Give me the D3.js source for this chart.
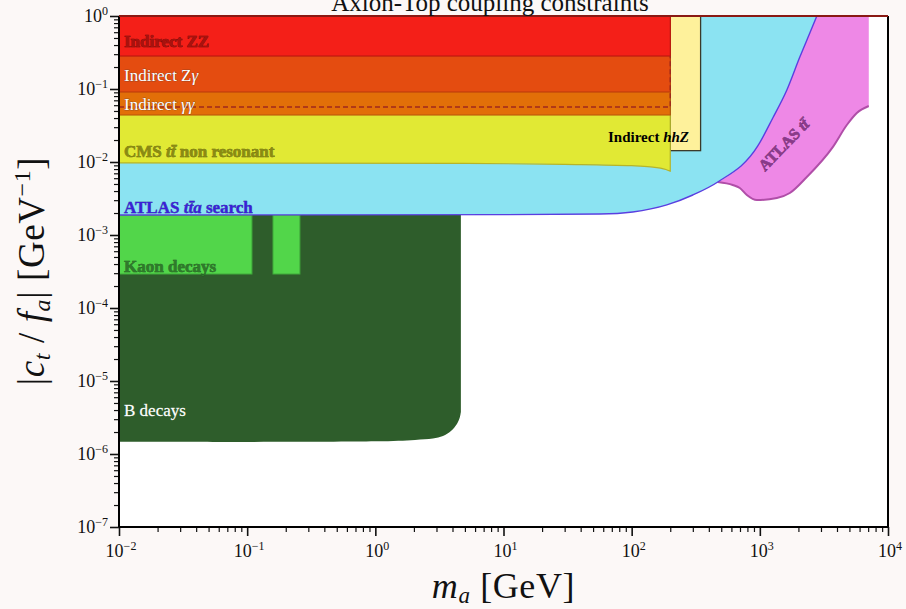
<!DOCTYPE html>
<html>
<head>
<meta charset="utf-8">
<script src="https://cdn.jsdelivr.net/npm/d3@7"></script>
<style>
  html, body { margin: 0; padding: 0; background: #fcf8f7; }
  svg { display: block; }
  text { font-family: "Liberation Serif", "DejaVu Serif", serif; }
</style>
</head>
<body>
<svg id="chart" width="906" height="609"></svg>
<script>
// ---- constraint boundaries: [m_a (GeV), |c_t/f_a| (GeV^-1)] ----
const atlasTtaBound = [[0.01,1.88e-3],[10,1.9e-3],[56.5,1.94e-3],[102,2.07e-3],[188,2.58e-3],[300,3.53e-3],
  [470,5.32e-3],[964,0.0166],[1262,0.0401],[1625,0.0969],[2051,0.274],[2455,0.585],[2785,1]];
const atlasTtBottom = [[470,5.32e-3],[615,4.84e-3],[698,4.4e-3],[792,3.53e-3],[948,3.01e-3],[1358,3.21e-3],
  [1714,3.76e-3],[2326,6.23e-3],[3707,0.016],[4772,0.0321],[5710,0.0469],[7080,0.0585]];
const cmsBound = [[0.01,9.7e-3],[5,9.6e-3],[30,9.3e-3],[100,8.9e-3],[140,8.6e-3],[185,7.9e-3],[200,7.5e-3]];
const bDecayCorner = [[4.65,3.76e-6],[4.57,3.21e-6],[4.33,2.58e-6],[3.89,2.07e-6],[3.37,1.77e-6],[2.81,1.63e-6],
  [2.04,1.56e-6],[1.0,1.49e-6],[0.01,1.47e-6]];
const bDecayTop = 1.88e-3;
const kaonBoxes = [[0.01,0.109],[0.159,0.258]];
const kaonRange = [2.92e-4,1.88e-3];
const hhZBox = {m:[200,345], c:0.0143};
const indirectMassMax = 200;
const gammaGammaBound = 0.044;
const zGammaBound = 0.091;
const zzBound = 0.283;
const gammaGammaDashed = 0.0567;

const xTickPowers = [-2,-1,0,1,2,3,4];
const yTickPowers = [0,-1,-2,-3,-4,-5,-6,-7];
const superMinus = "\u2212";

// ---- layout ----
const svg = d3.select("#chart");
const x = d3.scaleLog().domain([1e-2,1e4]).range([119,888]);
const y = d3.scaleLog().domain([1e-7,1]).range([527,16]);
const [x0,x1] = x.range(), [y0,y1] = y.range();
const yTop = y1 - 5;   // fills run slightly past the top spine, clipped

svg.append("rect").attr("x",x0).attr("y",y1).attr("width",x1-x0).attr("height",y0-y1).attr("fill","#ffffff");

svg.append("clipPath").attr("id","plotclip").append("rect")
  .attr("x",x0).attr("y",y1).attr("width",x1-x0).attr("height",y0-y1);
const g = svg.append("g").attr("clip-path","url(#plotclip)");

const lineMono = d3.line().x(d=>x(d[0])).y(d=>y(d[1])).curve(d3.curveMonotoneX);
const lineCR = d3.line().x(d=>x(d[0])).y(d=>y(d[1])).curve(d3.curveCatmullRom.alpha(0.5));

// B decays (dark green) with rounded lower-right corner
g.append("path")
  .attr("d", `M${x(0.01)},${y(bDecayTop)}L${x(bDecayCorner[0][0])},${y(bDecayTop)}L` + lineCR(bDecayCorner).slice(1) + "Z")
  .attr("fill","#2e5d2b");

// Kaon decays
kaonBoxes.forEach(b => {
  g.append("rect").attr("x",x(b[0])).attr("y",y(kaonRange[1]))
    .attr("width",x(b[1])-x(b[0])).attr("height",y(kaonRange[0])-y(kaonRange[1]))
    .attr("fill","#52d64a").attr("stroke","#3fa83a").attr("stroke-width",1);
});

// ATLAS tta search (light blue): everything above its boundary
const ttaEnd = atlasTtaBound[atlasTtaBound.length-1][0];
g.append("path")
  .attr("d", lineMono(atlasTtaBound) + `L${x(ttaEnd)},${yTop}L${x(0.01)},${yTop}Z`)
  .attr("fill","#8be3f2");

// ATLAS tt (magenta): between the tta boundary and its own lower edge
{
  const left = atlasTtaBound.filter(d => d[0] >= atlasTtBottom[0][0]);
  const last = atlasTtBottom[atlasTtBottom.length-1];
  const leftRev = lineMono(left.slice().reverse());
  g.append("path")
    .attr("d", lineMono(atlasTtBottom) + `L${x(last[0])},${yTop}L${x(ttaEnd)},${yTop}L` + leftRev.slice(1) + "Z")
    .attr("fill","#ee88e6");
  g.append("path").attr("d", lineMono(atlasTtBottom)).attr("fill","none")
    .attr("stroke","#b04ea8").attr("stroke-width",2);
}
// ATLAS tta boundary line
g.append("path").attr("d", lineMono(atlasTtaBound)).attr("fill","none")
  .attr("stroke","#5a3fe0").attr("stroke-width",1.4);

// Indirect hhZ
g.append("rect").attr("x",x(hhZBox.m[0])).attr("y",yTop)
  .attr("width",x(hhZBox.m[1])-x(hhZBox.m[0])).attr("height",y(hhZBox.c)-yTop)
  .attr("fill","#fef19b").attr("stroke","#3a3a2a").attr("stroke-width",1.3);

// CMS tt non resonant (yellow)
g.append("path").attr("d", lineMono(cmsBound) + `L${x(indirectMassMax)},${yTop}L${x(0.01)},${yTop}Z`)
  .attr("fill","#e1e934");
g.append("path").attr("d", lineMono(cmsBound) + `L${x(indirectMassMax)},${y(gammaGammaBound)}`)
  .attr("fill","none").attr("stroke","#b6b42a").attr("stroke-width",1.2);

// Indirect bands
[[gammaGammaBound,"#e26f08","#b8560a"],[zGammaBound,"#e44c10","#b83a0c"],[zzBound,"#f41f18","#b41410"]].forEach(([c,fill,stroke]) => {
  g.append("rect").attr("x",x(0.01)-2).attr("y",yTop)
    .attr("width",x(indirectMassMax)-x(0.01)+2).attr("height",y(c)-yTop)
    .attr("fill",fill).attr("stroke",stroke).attr("stroke-width",1);
});
// dashed gamma-gamma contour
g.append("path")
  .attr("d", `M${x(0.01)},${y(gammaGammaDashed)}L${x(indirectMassMax)},${y(gammaGammaDashed)}L${x(indirectMassMax)},${y(zzBound)}`)
  .attr("fill","none").attr("stroke","#a0281c").attr("stroke-width",1.4).attr("stroke-dasharray","5,3");

// ---- region labels ----
function label(txt, px, py, opts = {}) {
  const t = svg.append("text").attr("x",px).attr("y",py)
    .attr("font-size", opts.size || 17).attr("font-weight", opts.weight || "bold")
    .attr("fill", opts.fill || "#000");
  if (opts.stroke) t.attr("stroke",opts.stroke).attr("stroke-width",opts.sw||0.6).attr("paint-order","stroke");
  if (opts.rotate) t.attr("transform",`rotate(${opts.rotate},${px},${py})`);
  txt.forEach(([s, italic]) => t.append("tspan").attr("font-style", italic ? "italic" : "normal").text(s));
  return t;
}
label([["Indirect ZZ"]], 124, 47, {fill:"#a8120e", stroke:"#5e0806", sw:0.6});
label([["Indirect Z"],["γ", true]], 124, 81, {fill:"#ffffff", weight:"normal", stroke:"#6a3a2a", sw:0.5});
label([["Indirect "],["γγ", true]], 124, 110, {fill:"#ffffff", weight:"normal", stroke:"#6a3a2a", sw:0.5});
label([["CMS "],["tt̄", true],[" non resonant"]], 124, 157, {fill:"#8a8a12", stroke:"#55550a", sw:0.5});
label([["ATLAS "],["tt̄a", true],[" search"]], 124, 213, {fill:"#3a1fd8", stroke:"#24167e", sw:0.4});
label([["Kaon decays"]], 124, 272, {fill:"#2f7a2b", stroke:"#1c461a", sw:0.5});
label([["B decays"]], 124, 416, {fill:"#ffffff", weight:"normal", stroke:"#cfd8cf", sw:0.3});
label([["Indirect "],["hhZ", true]], 608, 142, {fill:"#000000", size:15});
label([["ATLAS "],["tt̄", true]], 765, 172, {fill:"#8a3a8a", stroke:"#5a1f5a", sw:0.5, rotate:-46, size:16});

// ---- axes ----
const ax = svg.append("g");
function pow10Label(sel, p, px, py, anchor) {
  const t = sel.append("text").attr("x",px).attr("y",py).attr("text-anchor",anchor)
    .attr("font-size",18).attr("fill","#111");
  t.append("tspan").text("10");
  t.append("tspan").attr("dy",-7).attr("font-size",12).text(p < 0 ? superMinus + (-p) : String(p));
}
const xMinor = [], yMinor = [];
for (let e = -2; e < 4; e++) for (let k = 2; k <= 9; k++) xMinor.push(k * Math.pow(10,e));
for (let e = -7; e < 0; e++) for (let k = 2; k <= 9; k++) yMinor.push(k * Math.pow(10,e));

const xAxisMinor = d3.axisBottom(x).tickValues(xMinor).tickSize(5).tickFormat("");
const xAxisMajor = d3.axisBottom(x).tickValues(xTickPowers.map(p=>Math.pow(10,p))).tickSize(9).tickFormat("");
const yAxisMinor = d3.axisLeft(y).tickValues(yMinor).tickSize(5).tickFormat("");
const yAxisMajor = d3.axisLeft(y).tickValues(yTickPowers.map(p=>Math.pow(10,p))).tickSize(9).tickFormat("");

[xAxisMinor, xAxisMajor].forEach((a,i) => {
  const gg = ax.append("g").attr("transform",`translate(0,${y0})`).call(a);
  gg.select(".domain").remove();
  gg.selectAll("line").attr("stroke","#111").attr("stroke-width", i ? 1.6 : 1.2);
});
[yAxisMinor, yAxisMajor].forEach((a,i) => {
  const gg = ax.append("g").attr("transform",`translate(${x0},0)`).call(a);
  gg.select(".domain").remove();
  gg.selectAll("line").attr("stroke","#111").attr("stroke-width", i ? 1.6 : 1.2);
});
xTickPowers.forEach(p => pow10Label(ax, p, x(Math.pow(10,p)) + 2, 557, "middle"));
yTickPowers.forEach(p => pow10Label(ax, p, 108, y(Math.pow(10,p)) + 6, "end"));

// spines
ax.append("line").attr("x1",x0).attr("x2",x0).attr("y1",y1).attr("y2",y0).attr("stroke","#000").attr("stroke-width",2);
ax.append("line").attr("x1",x0).attr("x2",x1).attr("y1",y0).attr("y2",y0).attr("stroke","#000").attr("stroke-width",2);
ax.append("line").attr("x1",x1).attr("x2",x1).attr("y1",y1).attr("y2",y0).attr("stroke","#000").attr("stroke-width",2);
ax.append("line").attr("x1",x0).attr("x2",x1).attr("y1",y1).attr("y2",y1).attr("stroke","#8a1a14").attr("stroke-width",2);

// axis titles
{
  const t = svg.append("text").attr("x",(x0+x1)/2).attr("y",598).attr("text-anchor","middle")
    .attr("font-size",36).attr("letter-spacing",0.6).attr("fill","#111");
  t.append("tspan").attr("font-style","italic").text("m");
  t.append("tspan").attr("font-style","italic").attr("font-size",23).attr("dy",5).text("a");
  t.append("tspan").attr("dy",-5).text(" [GeV]");
}
{
  const t = svg.append("text").attr("transform","translate(44,271) rotate(-90)").attr("text-anchor","middle")
    .attr("font-size",37).attr("letter-spacing",0.6).attr("fill","#111");
  t.append("tspan").text("|");
  t.append("tspan").attr("font-style","italic").text("c");
  t.append("tspan").attr("font-style","italic").attr("font-size",24).attr("dy",6).text("t");
  t.append("tspan").attr("dy",-6).text(" / ");
  t.append("tspan").attr("font-style","italic").text("f");
  t.append("tspan").attr("font-style","italic").attr("font-size",24).attr("dy",6).text("a");
  t.append("tspan").attr("dy",-6).text("| [GeV");
  t.append("tspan").attr("font-size",24).attr("dy",-14).text(superMinus + "1");
  t.append("tspan").attr("dy",14).text("]");
}
// title
svg.append("text").attr("x",490).attr("y",11).attr("text-anchor","middle").attr("font-size",25).attr("fill","#111")
  .text("Axion-Top coupling constraints");
</script>
</body>
</html>
